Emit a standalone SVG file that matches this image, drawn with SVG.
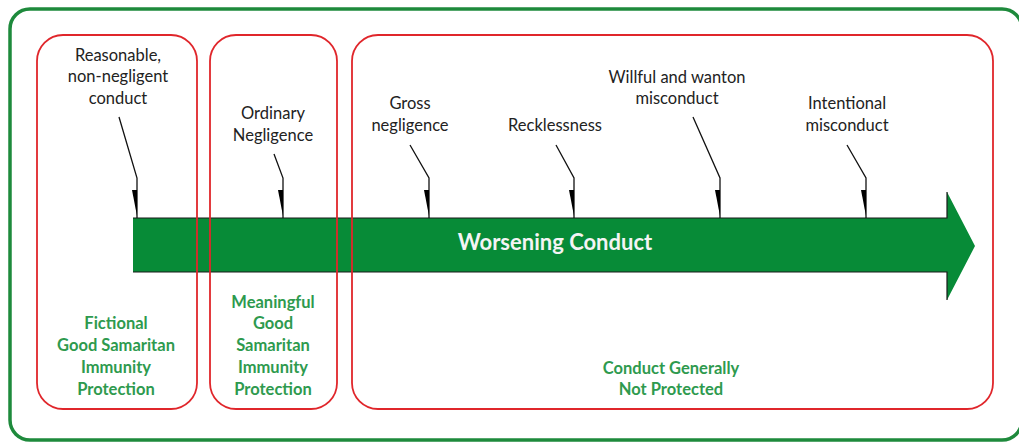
<svg xmlns="http://www.w3.org/2000/svg" width="1019" height="443" viewBox="0 0 1019 443">
<style>
.frame{fill:none;stroke:#1e8a3c;stroke-width:3.5}
.box{fill:none;stroke:#e0262b;stroke-width:1.8}
.lbl{font-family:Lato,"Open Sans","Liberation Sans",sans-serif;font-size:16.5px;fill:#222;text-anchor:middle}
.glbl{font-family:Lato,"Open Sans","Liberation Sans",sans-serif;font-size:16.5px;font-weight:bold;fill:#2e9a4e;text-anchor:middle}
.call{fill:none;stroke:#111;stroke-width:1.3}
.wedge{fill:#000}
</style>
<rect width="1019" height="443" fill="#fff"/>
<rect class="frame" x="10" y="9" width="1012" height="431" rx="20"/>
<g id="arrow">
<path d="M133,218 H947 V192 L975,246 L947,300 V272 H133 Z" fill="#078b37" stroke="none"/>
<path d="M133,218 H947 V192 M947,300 V272 H133" fill="none" stroke="#1a1a1a" stroke-width="1.2"/>
<text x="555" y="250" font-family="Lato,'Open Sans','Liberation Sans',sans-serif" font-size="22" font-weight="bold" fill="#f4f4f4" text-anchor="middle">Worsening Conduct</text>
</g>
<g id="box-fictional">
<rect class="box" x="37" y="35" width="160" height="374" rx="26"/>
<text class="glbl"><tspan x="116" y="329">Fictional</tspan><tspan x="116" y="351">Good Samaritan</tspan><tspan x="116" y="373">Immunity</tspan><tspan x="116" y="395">Protection</tspan></text>
</g>
<g id="box-meaningful">
<rect class="box" x="210" y="35" width="127" height="374" rx="26"/>
<text class="glbl"><tspan x="273" y="308">Meaningful</tspan><tspan x="273" y="329">Good</tspan><tspan x="273" y="351">Samaritan</tspan><tspan x="273" y="373">Immunity</tspan><tspan x="273" y="395">Protection</tspan></text>
</g>
<g id="box-notprotected">
<rect class="box" x="352" y="35" width="641" height="374" rx="26"/>
<text class="glbl"><tspan x="671" y="374">Conduct Generally</tspan><tspan x="671" y="395">Not Protected</tspan></text>
</g>
<g id="label-reasonable">
<text class="lbl"><tspan x="118" y="61">Reasonable,</tspan><tspan x="118" y="82">non-negligent</tspan><tspan x="118" y="104">conduct</tspan></text>
</g>
<g id="label-ordinary">
<text class="lbl"><tspan x="273" y="119">Ordinary</tspan><tspan x="273" y="141">Negligence</tspan></text>
</g>
<g id="label-gross">
<text class="lbl"><tspan x="410" y="109">Gross</tspan><tspan x="410" y="131">negligence</tspan></text>
</g>
<g id="label-reckless">
<text class="lbl"><tspan x="555" y="131">Recklessness</tspan></text>
</g>
<g id="label-willful">
<text class="lbl"><tspan x="677" y="83">Willful and wanton</tspan><tspan x="677" y="104">misconduct</tspan></text>
</g>
<g id="label-intentional">
<text class="lbl"><tspan x="847" y="109">Intentional</tspan><tspan x="847" y="131">misconduct</tspan></text>
</g>
<g id="connectors">
<path class="call" d="M119,117 L137,178 V218"/>
<polygon class="wedge" points="132,190 137,190 137,216"/>
<path class="call" d="M274,154 L283,178 V218"/>
<polygon class="wedge" points="278,190 283,190 283,216"/>
<path class="call" d="M410,145 L429,178 V218"/>
<polygon class="wedge" points="424,190 429,190 429,216"/>
<path class="call" d="M556,145 L574,178 V218"/>
<polygon class="wedge" points="569,190 574,190 574,216"/>
<path class="call" d="M693,117 L720,178 V218"/>
<polygon class="wedge" points="715,190 720,190 720,216"/>
<path class="call" d="M847,145 L866,178 V218"/>
<polygon class="wedge" points="861,190 866,190 866,216"/>
</g>
</svg>
